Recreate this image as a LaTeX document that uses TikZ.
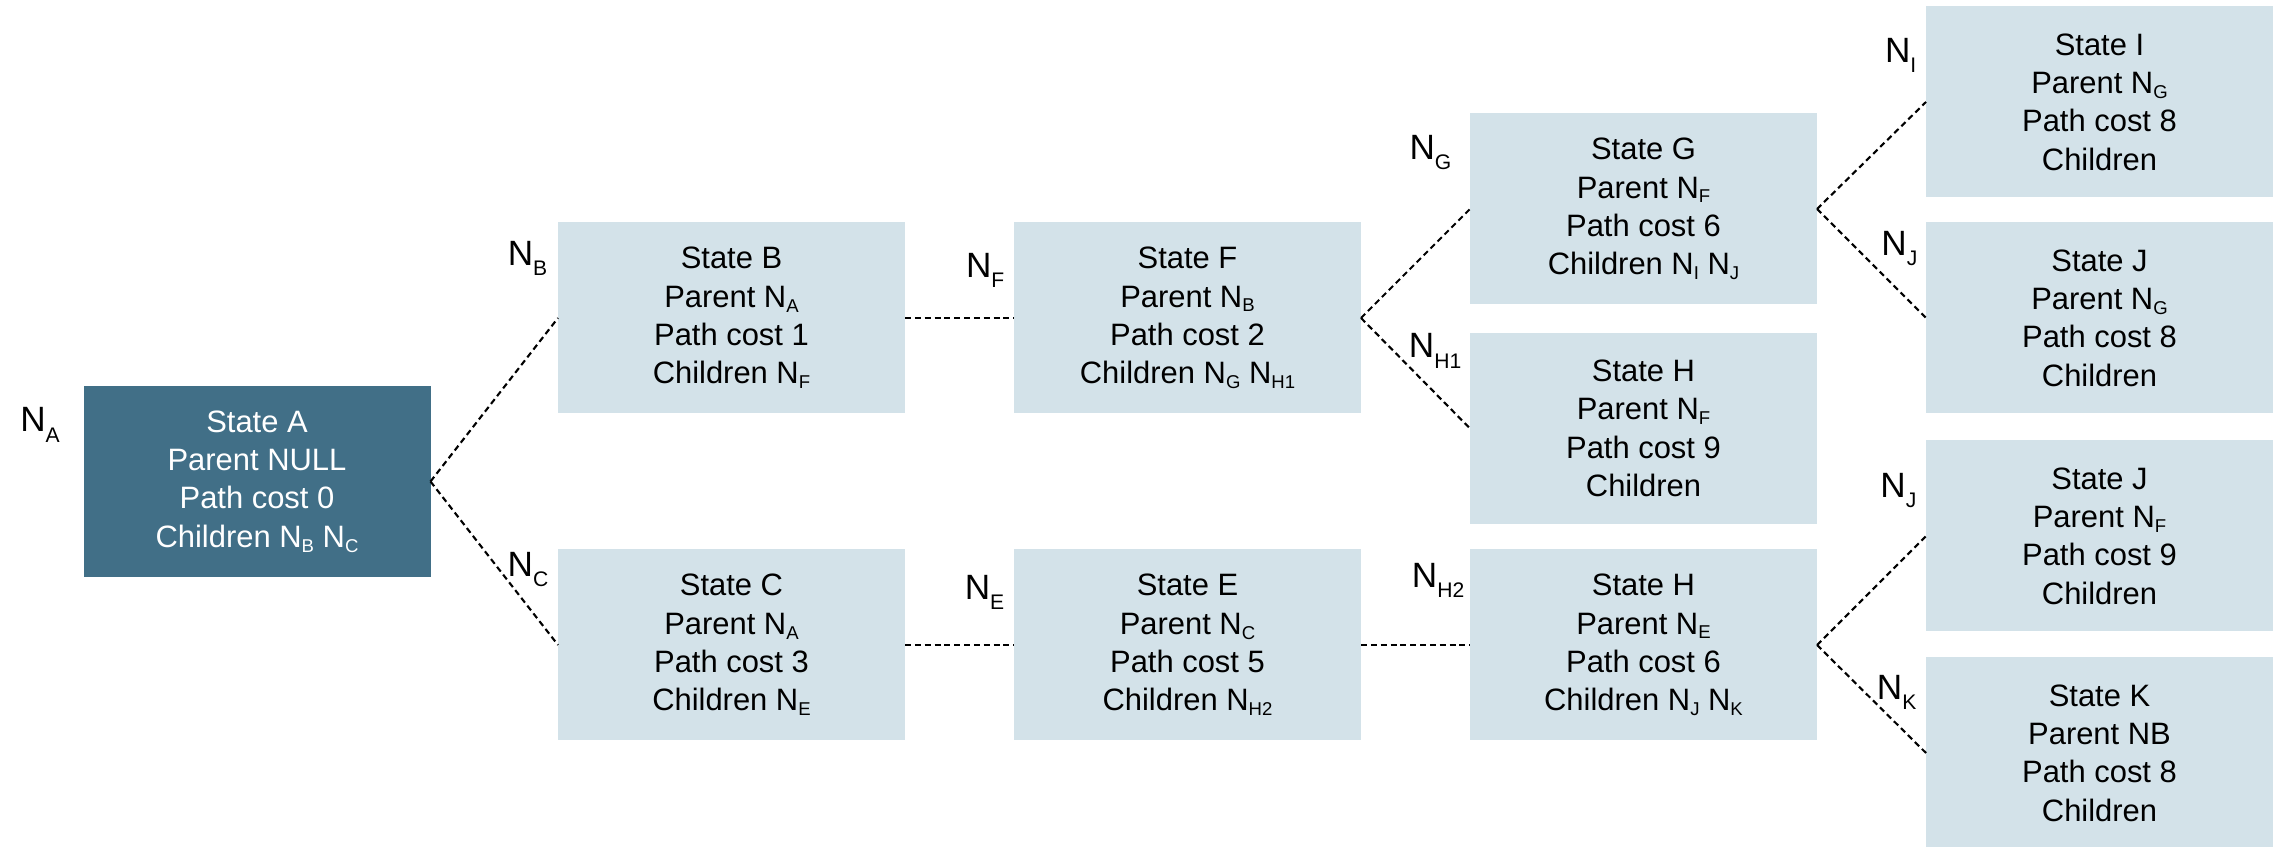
\documentclass[tikz,border=0pt]{standalone}
\usepackage{fontspec}
\setmainfont{Liberation Sans}
\usepackage{tikz}

\definecolor{rootfill}{HTML}{416F87}
\definecolor{statefill}{HTML}{D3E2E9}
\newcommand{\nid}[1]{N\raisebox{-0.3ex}{\scalebox{0.6}{#1}}}
\newcommand{\nlbl}[1]{N\raisebox{-0.55ex}{\scalebox{0.6}{#1}}}

\begin{document}
\begin{tikzpicture}[x=1cm,y=-1cm,
  statebox/.style={rectangle,fill=statefill,minimum width=3.47cm,minimum height=1.91cm,inner sep=0pt,outer sep=0pt,align=center,font=\fontsize{8.8}{10.9}\selectfont},
  rootbox/.style={statebox,fill=rootfill,text=white},
  nlabel/.style={anchor=north east,inner sep=0pt,font=\fontsize{10}{12}\selectfont},
  link/.style={draw=black,line width=0.6pt,dash pattern=on 1.7pt off 1.1pt}]
\useasboundingbox (0,0) rectangle (22.77,8.47);
\node (A) at (2.57,4.815) [rootbox] {State A\\Parent NULL\\Path cost 0\\Children \nid{B} \nid{C}};
\node (B) at (7.315,3.18) [statebox] {State B\\Parent \nid{A}\\Path cost 1\\Children \nid{F}};
\node (C) at (7.315,6.45) [statebox] {State C\\Parent \nid{A}\\Path cost 3\\Children \nid{E}};
\node (F) at (11.875,3.18) [statebox] {State F\\Parent \nid{B}\\Path cost 2\\Children \nid{G} \nid{H1}};
\node (E) at (11.875,6.45) [statebox] {State E\\Parent \nid{C}\\Path cost 5\\Children \nid{H2}};
\node (G) at (16.435,2.09) [statebox] {State G\\Parent \nid{F}\\Path cost 6\\Children \nid{I} \nid{J}};
\node (H1) at (16.435,4.285) [statebox] {State H\\Parent \nid{F}\\Path cost 9\\Children};
\node (H2) at (16.435,6.45) [statebox] {State H\\Parent \nid{E}\\Path cost 6\\Children \nid{J} \nid{K}};
\node (I) at (20.995,1.02) [statebox] {State I\\Parent \nid{G}\\Path cost 8\\Children};
\node (J1) at (20.995,3.18) [statebox] {State J\\Parent \nid{G}\\Path cost 8\\Children};
\node (J2) at (20.995,5.36) [statebox] {State J\\Parent \nid{F}\\Path cost 9\\Children};
\node (K) at (20.995,7.53) [statebox] {State K\\Parent NB\\Path cost 8\\Children};
\node (lA) at ([xshift=-0.23cm,yshift=-0.21cm]A.north west) [nlabel] {\nlbl{A}};
\node (lB) at ([xshift=-0.1cm,yshift=-0.18cm]B.north west) [nlabel] {\nlbl{B}};
\node (lC) at ([xshift=-0.09cm,yshift=-0.02cm]C.north west) [nlabel] {\nlbl{C}};
\node (lF) at ([xshift=-0.09cm,yshift=-0.3cm]F.north west) [nlabel] {\nlbl{F}};
\node (lE) at ([xshift=-0.09cm,yshift=-0.25cm]E.north west) [nlabel] {\nlbl{E}};
\node (lG) at ([xshift=-0.18cm,yshift=-0.21cm]G.north west) [nlabel] {\nlbl{G}};
\node (lH1) at ([xshift=-0.08cm,yshift=0cm]H1.north west) [nlabel] {\nlbl{H1}};
\node (lH2) at ([xshift=-0.05cm,yshift=-0.13cm]H2.north west) [nlabel] {\nlbl{H2}};
\node (lI) at ([xshift=-0.09cm,yshift=-0.31cm]I.north west) [nlabel] {\nlbl{I}};
\node (lJ1) at ([xshift=-0.08cm,yshift=-0.08cm]J1.north west) [nlabel] {\nlbl{J}};
\node (lJ2) at ([xshift=-0.09cm,yshift=-0.32cm]J2.north west) [nlabel] {\nlbl{J}};
\node (lK) at ([xshift=-0.09cm,yshift=-0.17cm]K.north west) [nlabel] {\nlbl{K}};
\draw[link] (A.east) -- (B.west);
\draw[link] (A.east) -- (C.west);
\draw[link] (B.east) -- (F.west);
\draw[link] (C.east) -- (E.west);
\draw[link] (F.east) -- (G.west);
\draw[link] (F.east) -- (H1.west);
\draw[link] (E.east) -- (H2.west);
\draw[link] (G.east) -- (I.west);
\draw[link] (G.east) -- (J1.west);
\draw[link] (H2.east) -- (J2.west);
\draw[link] (H2.east) -- (K.west);
\end{tikzpicture}
\end{document}
